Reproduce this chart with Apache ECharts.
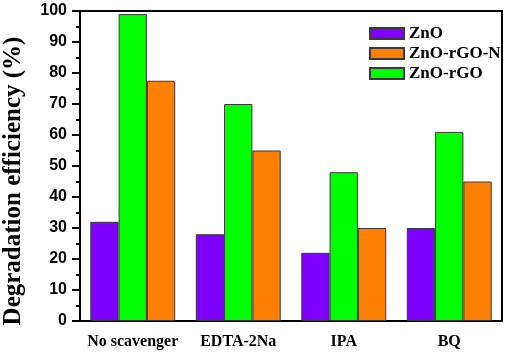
<!DOCTYPE html>
<html>
<head>
<meta charset="utf-8">
<script src="https://cdn.jsdelivr.net/npm/echarts@6/dist/echarts.min.js"></script>
<style>
html,body{margin:0;padding:0;background:#fff;}
#chart{width:505px;height:353px;}
</style>
</head>
<body>
<div id="chart"></div>
<script>
// scavenger test data
var categories = ['No scavenger', 'EDTA-2Na', 'IPA', 'BQ'];
var znoValues = [32, 28, 22, 30];
var znoRgoValues = [99, 70, 48, 61];
var znoRgoNValues = [77.5, 55, 30, 45];
var legendOrder = ['ZnO', 'ZnO-rGO-N', 'ZnO-rGO'];

var serif = '"Liberation Serif", "Times New Roman", serif';
var sans = '"Liberation Sans", Arial, sans-serif';

var myChart = echarts.init(document.getElementById('chart'));

function barSeries(name, data, color){
	return {
		name: name,
		type: 'bar',
		xAxisIndex: 0,
		barGap: '0%',
		barCategoryGap: '19.5%',
		itemStyle: {
			color: color,
			borderColor: '#3a3a3a',
			borderWidth: 1
		},
		data: data
	};
}

var option = {
	animation: false,
	backgroundColor: '#fff',
	grid: {
		left: 80,
		right: 3,
		top: 11,
		bottom: 32,
		outerBoundsMode: 'none',
		containLabel: false,
		show: true,
		borderColor: '#000',
		borderWidth: 2,
		backgroundColor: 'transparent'
	},
	legend: {
		data: legendOrder,
		orient: 'vertical',
		left: 369,
		top: 25,
		padding: 0,
		icon: 'rect',
		itemWidth: 34,
		itemHeight: 11,
		itemGap: 3,
		textStyle: {
			fontFamily: serif,
			fontWeight: 'bold',
			fontSize: 17,
			lineHeight: 17,
			color: '#000'
		}
	},
	xAxis: [
		{
			type: 'category',
			data: categories,
			axisLine: { lineStyle: { color: '#000', width: 2 } },
			axisTick: { alignWithLabel: true, length: 8, lineStyle: { color: '#000', width: 2 } },
			axisLabel: {
				interval: 0,
				margin: 13,
				color: '#000',
				fontFamily: serif,
				fontWeight: 'bold',
				fontSize: 16
			}
		},
		{
			// short ticks on the category boundaries
			type: 'category',
			position: 'bottom',
			data: categories,
			axisLine: { show: false },
			axisTick: { interval: 0, length: 5, lineStyle: { color: '#000', width: 2 } },
			axisLabel: { show: false }
		}
	],
	yAxis: {
		type: 'value',
		min: 0,
		max: 100,
		interval: 10,
		name: 'Degradation efficiency (%)',
		nameLocation: 'middle',
		nameGap: 54,
		nameTextStyle: {
			fontFamily: serif,
			fontWeight: 'bold',
			fontSize: 25,
			color: '#000',
			padding: [0, 30, 0, 0]
		},
		axisLine: { show: true, lineStyle: { color: '#000', width: 2 } },
		axisTick: { show: true, length: 8, lineStyle: { color: '#000', width: 2 } },
		minorTick: { show: true, splitNumber: 2, length: 4, lineStyle: { color: '#000', width: 2 } },
		splitLine: { show: false },
		axisLabel: {
			margin: 13,
			color: '#000',
			fontFamily: sans,
			fontWeight: 'bold',
			fontSize: 16
		}
	},
	series: [
		barSeries('ZnO', znoValues, '#7f00ff'),
		barSeries('ZnO-rGO', znoRgoValues, '#00ff00'),
		barSeries('ZnO-rGO-N', znoRgoNValues, '#ff8000')
	]
};
myChart.setOption(option);
</script>
</body>
</html>
